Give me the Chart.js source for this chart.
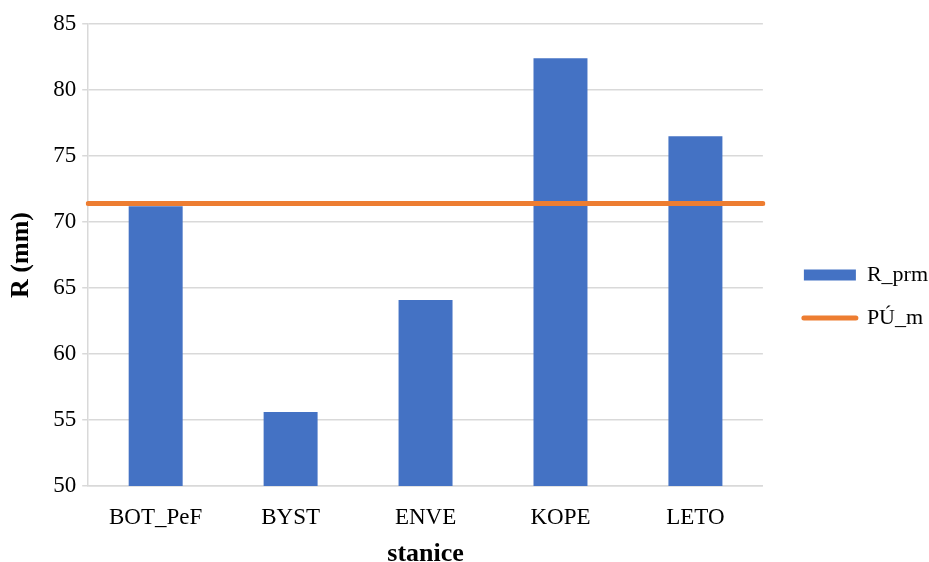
<!DOCTYPE html>
<html>
<head>
<meta charset="utf-8">
<script src="https://cdn.jsdelivr.net/npm/chart.js@4/dist/chart.umd.min.js"></script>
<style>
  html, body { margin: 0; padding: 0; background: #fff; }
  #wrap { width: 929px; height: 562px; }
</style>
</head>
<body>
<div id="wrap"><canvas id="chart"></canvas></div>
<script>
// stanice a hodnoty
const stanice = ['BOT_PeF', 'BYST', 'ENVE', 'KOPE', 'LETO'];
const rPrm = [71.2, 55.6, 64.1, 82.4, 76.5];
const puM = [71.4, 71.4, 71.4, 71.4, 71.4];
const yTicks = [50, 55, 60, 65, 70, 75, 80, 85];

const font = 'Liberation Serif';

// posun legendy doprava a dolu (jako v Excelu)
const legendShift = {
  id: 'legendShift',
  afterLayout(chart) {
    const lg = chart.legend;
    if (!lg) return;
    lg.left += 20; lg.right += 20;
    lg.top += 1; lg.bottom += 1;
  }
};

new Chart(document.getElementById('chart'), {
  type: 'bar',
  data: {
    labels: stanice,
    datasets: [
      {
        type: 'line',
        label: 'PÚ_m',
        data: puM,
        xAxisID: 'x2',
        borderColor: '#ED7D31',
        backgroundColor: '#ED7D31',
        borderWidth: 5,
        borderCapStyle: 'round',
        pointRadius: 0,
        order: 0
      },
      {
        type: 'bar',
        label: 'R_prm',
        data: rPrm,
        xAxisID: 'x',
        backgroundColor: '#4472C4',
        borderWidth: 0,
        grouped: false,
        barPercentage: 0.4,
        categoryPercentage: 1,
        order: 1
      }
    ]
  },
  options: {
    responsive: true,
    maintainAspectRatio: false,
    animation: false,
    layout: { padding: { top: 24, left: 6, right: 11, bottom: -5 } },
    plugins: {
      tooltip: { enabled: false },
      legend: {
        position: 'right',
        reverse: true,
        labels: {
          font: { family: font, size: 22 },
          color: '#000',
          usePointStyle: true,
          pointStyleWidth: 52,
          boxHeight: 11,
          padding: 21,
          generateLabels(chart) {
            const items = Chart.defaults.plugins.legend.labels.generateLabels(chart);
            items.forEach(it => {
              const ds = chart.data.datasets[it.datasetIndex];
              if (ds.type === 'line') {
                it.pointStyle = 'line';
                it.lineWidth = 5;
                it.lineCap = 'round';
                it.strokeStyle = '#ED7D31';
              } else {
                it.pointStyle = 'rect';
                it.lineWidth = 0;
              }
            });
            return items;
          }
        }
      }
    },
    scales: {
      x: {
        type: 'category',
        grid: { display: false },
        border: { display: true, color: '#D9D9D9', width: 1.5 },
        ticks: { font: { family: font, size: 23, lineHeight: 1 }, color: '#000', padding: 12 },
        title: {
          display: true,
          text: 'stanice',
          font: { family: font, size: 26, weight: 'bold', lineHeight: 1 },
          color: '#000',
          padding: { top: 0, bottom: 0 }
        }
      },
      x2: {
        type: 'category',
        labels: stanice,
        offset: false,
        display: false
      },
      y: {
        min: 50,
        max: 85,
        afterBuildTicks(scale) { scale.ticks = yTicks.map(v => ({ value: v })); },
        grid: { color: '#D9D9D9', lineWidth: 1.5, tickLength: 6 },
        border: { display: true, color: '#D9D9D9', width: 1.5 },
        ticks: { font: { family: font, size: 23 }, color: '#000', padding: 6 },
        title: {
          display: true,
          text: 'R (mm)',
          font: { family: font, size: 26, weight: 'bold' },
          color: '#000',
          padding: { top: 0, bottom: 10 }
        }
      }
    }
  },
  plugins: [legendShift]
});
</script>
</body>
</html>
